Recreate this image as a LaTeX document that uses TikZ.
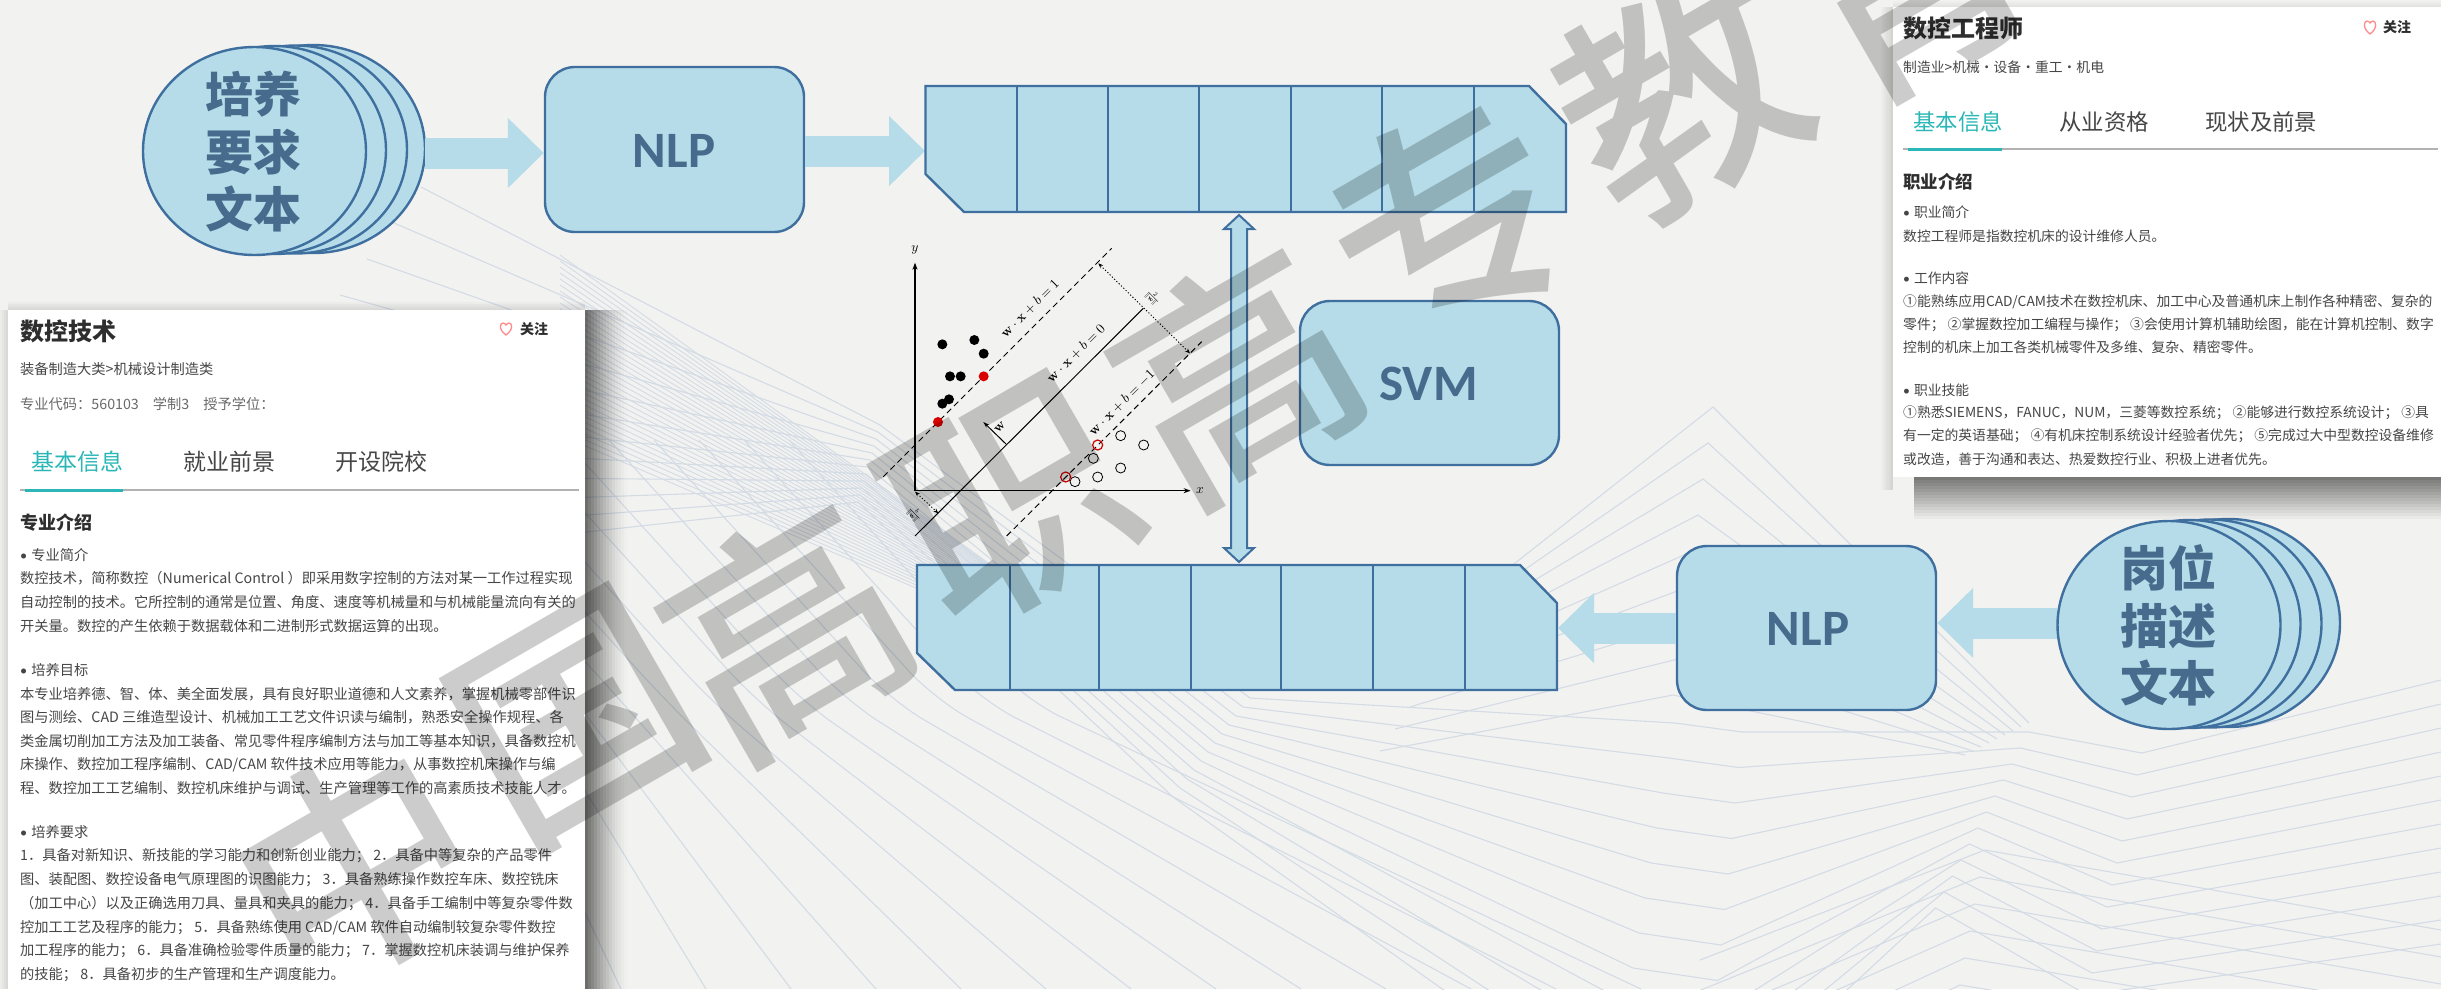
\documentclass[tikz,border=0pt]{standalone}
\usepackage[no-math]{fontspec}
\setmainfont{Noto Sans CJK SC}
\newfontfamily\carl{Carlito}
\newfontfamily\wmf{Noto Sans CJK SC Medium}
\usetikzlibrary{arrows.meta,calc,shapes.geometric}
\definecolor{bgc}{HTML}{F2F2F0}
\definecolor{bfill}{HTML}{B5DCE8}
\definecolor{bline}{HTML}{3F6F9F}
\definecolor{btext}{HTML}{466B8C}
\definecolor{lnc}{HTML}{D3DBE5}
\definecolor{teal1}{HTML}{2BB7B7}
\definecolor{ink}{HTML}{464646}
\definecolor{ink2}{HTML}{6A6A6A}
\definecolor{head}{HTML}{2E2E2E}
\newcommand{\fsz}[1]{\fontsize{#1}{#1}\selectfont}
\newcommand{\bul}{{\carl •}\hspace{4pt}}
\tikzset{
 bgline/.style={draw=lnc,line width=1.1pt},
 hatchline/.style={draw=lnc,line width=.9pt},
 blockbox/.style={draw=bline,fill=bfill,line width=2.4pt},
 roundbox/.style={blockbox,rounded corners=30pt,inner sep=0pt},
 cyl/.style={blockbox,ellipse,inner sep=0pt,minimum width=223pt,minimum height=208pt},
 bigtxt/.style={text=btext,inner sep=0pt,font=\carl\bfseries\fsz{51}},
 cyltxt/.style={text=btext,inner sep=0pt,font=\bfseries\fsz{48}},
 flowarrow/.style={draw=bfill,line width=31pt,-{Triangle[width=68pt,length=36pt]}},
 cardtxt/.style={anchor=west,inner sep=0pt,text=ink,font=\fsz{14.25}},
 cardtxtr/.style={anchor=west,inner sep=0pt,text=ink,font=\fsz{13.8}},
 cardhead/.style={anchor=west,inner sep=0pt,text=head,font=\bfseries\fsz{24}},
 cardsub/.style={anchor=west,inner sep=0pt,text=head,font=\bfseries\fsz{18}},
 tabon/.style={anchor=west,inner sep=0pt,text=teal1,font=\fsz{23}},
 taboff/.style={anchor=west,inner sep=0pt,text=ink,font=\fsz{23}},
 follow/.style={anchor=west,inner sep=0pt,text=head,font=\bfseries\fsz{14}},
 heart/.style={draw=red!45!white,line width=1.3pt},
 wm/.style={text=black,text opacity=.2,rotate=30,inner sep=0pt,font=\wmf\fsz{235}},
 dotax/.style={line width=1.6pt,-{Stealth[length=7pt,width=5pt]}},
 dotdash/.style={line width=1pt,dash pattern=on 6pt off 4pt},
 dotted2/.style={line width=.9pt,dash pattern=on 1.2pt off 2pt,{Stealth[length=5pt,width=4pt]}-{Stealth[length=5pt,width=4pt]}},
 blackpt/.style={circle,fill=black,inner sep=0pt,minimum size=10pt},
 redpt/.style={circle,fill=red!85!black,inner sep=0pt,minimum size=10pt},
 openpt/.style={circle,draw=black,line width=.8pt,inner sep=0pt,minimum size=10pt},
 redopen/.style={circle,draw=red!80!black,line width=1.2pt,inner sep=0pt,minimum size=10pt},
 svmlab/.style={inner sep=0pt,scale=1.35,text=black},
}
\begin{document}
\begin{tikzpicture}[x=1pt,y=-1pt]
\useasboundingbox (0,0) rectangle (2441,989);
\clip (0,0) rectangle (2441,989);
\fill[bgc] (0,0) rectangle (2441,989);
% background guilloche lines
\foreach \k in {0,...,30}{
 \draw[hatchline] (560,{255+6*\k}) -- ({1005+3*\k},{575+3*\k});
}
\foreach \k in {0,...,11}{
 \draw[bgline] ({421-27*\k},{187+36*\k}) -- ({880-2*\k},{425+7*\k}) -- ({1250-7*\k},{698+9*\k}) -- ({1675-6*\k},{723+35*\k}) -- ({1742-3.5*\k},{732+35.5*\k}) -- ({2029-8.5*\k},{732+16*\k}) -- ({2142-5*\k},{753+22*\k}) -- (2441,{680+24*\k});
}
\foreach \k in {-3,...,9}{
 \draw[bgline,rounded corners=40pt] ({620+45*\k-236},440) -- ({620+45*\k},700) -- ({876+85*\k},989);
}
\foreach \k in {0,...,8}{
 \draw[bgline] ({1500-15*\k},{575+22*\k}) -- ({1713-5*\k},{407+36*\k}) -- ({2029-8*\k},{723+4*\k});
}
\foreach \k in {0,...,6}{
 \draw[bgline] ({1700-4*\k},{960+32*\k}) -- ({1985-5*\k},{850+27*\k}) -- (2441,{930+27*\k});
}
% shapes of the flow
\node[cyl] (c1d) at (313.5,149) {};
\node[cyl] (c1c) at (295.5,149.5) {};
\node[cyl] (c1b) at (274.5,150) {};
\node[cyl] (c1a) at (254.5,151) {};
\node[cyltxt] (t1a) at (253,94) {培养};
\node[cyltxt] (t1b) at (253,152) {要求};
\node[cyltxt] (t1c) at (253,209) {文本};
\node[roundbox,minimum width=259pt,minimum height=165pt] (nlp1) at (674.5,149.5) {};
\node[bigtxt] (nlp1t) at (674,151) {NLP};
\coordinate (a1s) at (425,153);
\draw[flowarrow] (a1s) -- (nlp1.west |- a1s);
\coordinate (a2e) at (925,151);
\draw[flowarrow] (nlp1.east |- a2e) -- (a2e);
% upper block
\draw[blockbox,line join=miter] (925.5,86) -- (1529,86) -- (1566,124) -- (1566,212) -- (964,212) -- (925.5,174) -- cycle;
\foreach \x in {1017,1108,1199,1291,1382,1474}{\draw[bline,line width=2pt] (\x,86) -- (\x,212);}
% lower block
\draw[blockbox,line join=miter] (917,565) -- (1520,565) -- (1557,603) -- (1557,690) -- (955,690) -- (917,653) -- cycle;
\foreach \x in {1009.5,1099,1191,1280.5,1373,1465}{\draw[bline,line width=2pt] (\x,565) -- (\x,690);}
% double arrow
\coordinate (dt) at (1239,215);
\coordinate (db) at (1239,562);
\draw[blockbox,line join=miter,line width=2pt] (dt) -- ($(dt)+(15,14)$) -- ($(dt)+(8,14)$) -- ($(db)+(8,-14)$) -- ($(db)+(15,-14)$) -- (db) -- ($(db)+(-15,-14)$) -- ($(db)+(-8,-14)$) -- ($(dt)+(-8,14)$) -- ($(dt)+(-15,14)$) -- cycle;
% SVM box
\node[roundbox,minimum width=259pt,minimum height=164pt] (svm) at (1429.5,383) {};
\node[bigtxt] (svmt) at (1428.5,384) {SVM};
% lower NLP and disc stack
\node[roundbox,minimum width=259pt,minimum height=164pt] (nlp2) at (1806.5,628) {};
\node[bigtxt] (nlp2t) at (1808,629) {NLP};
\coordinate (a3e) at (1558,628);
\draw[flowarrow] (nlp2.west |- a3e) -- (a3e);
\coordinate (a4s) at (2057,623);
\draw[flowarrow] (a4s) -- (nlp2.east |- a4s);
\node[cyl] (c2d) at (2228.5,623) {};
\node[cyl] (c2c) at (2210,623.5) {};
\node[cyl] (c2b) at (2189,624) {};
\node[cyl] (c2a) at (2169,625) {};
\node[cyltxt] (t2a) at (2168,568) {岗位};
\node[cyltxt] (t2b) at (2168,626) {描述};
\node[cyltxt] (t2c) at (2168,683) {文本};
% SVM figure
\begin{scope}[shift={(880,220)},x=.33333pt,y=-.33333pt]
 \coordinate (o) at (105,812);
 \coordinate (ytip) at (105,128);
 \coordinate (xtip) at (932,812);
 \draw[dotax] (o) -- (ytip);
 \draw[dotax] (o) -- (xtip);
 \node[svmlab] (yl) at (105,90) {$y$};
 \node[svmlab] (xl) at (960,812) {$x$};
 \draw[dotdash] (10,770) -- (695,85);
 \draw[dotdash] (380,948) -- (965,365);
 \draw[line width=1pt] (105,948) -- (790,265);
 \draw[line width=1pt,-{Stealth[length=6pt,width=4pt]}] (378,672) -- (310,606);
 \node[svmlab,rotate=45] (wl) at (360,622) {$\mathbf{w}$};
 \node[svmlab,rotate=45] (l1) at (450,265) {$\mathbf{w}\cdot\mathbf{x}+b=1$};
 \node[svmlab,rotate=45] (l0) at (588,400) {$\mathbf{w}\cdot\mathbf{x}+b=0$};
 \node[svmlab,rotate=45] (l2) at (725,548) {$\mathbf{w}\cdot\mathbf{x}+b=-1$};
 \draw[dotted2] (655,130) -- (930,400);
 \draw[dotted2] (105,815) -- (175,880);
 \node[inner sep=0pt,rotate=-45,scale=.9] (fr) at (818,232) {$\frac{2}{\|\mathbf{w}\|}$};
 \node[inner sep=0pt,rotate=-45,scale=.9] (fb) at (103,882) {$\frac{b}{\|\mathbf{w}\|}$};
 \foreach \p in {(187,373),(283,360),(311,401),(210,469),(242,469),(187,551),(207,538)}{\node[blackpt] at \p {};}
 \foreach \p in {(311,469),(174,606)}{\node[redpt] at \p {};}
 \foreach \p in {(722,647),(791,675),(640,715),(722,744),(653,771),(585,785)}{\node[openpt] at \p {};}
 \foreach \p in {(653,675),(557,771)}{\node[redopen] at \p {};}
\end{scope}
% left card shadow
\foreach \i in {0,...,13}{
 \fill[black,opacity={.55*(1-\i/14)^1.5}] ({585+3*\i},310) rectangle ({588+3*\i},989);
}
\foreach \i in {0,...,3}{
 \fill[black,opacity={.1*(1-\i/4)}] ({8-2*\i},310) rectangle ({6-2*\i},989);
 \fill[black,opacity={.1*(1-\i/4)}] (8,{310-2*\i}) rectangle (585,{308-2*\i});
}
\fill[white] (8,310) rectangle (585,989);
\node[cardhead] (lh) at (20,331) {数控技术};
\draw[heart] (506,335) .. controls (498,329) and (500,323) .. (503,323) .. controls (505,323) and (506,325) .. (506,325) .. controls (506,325) and (507,323) .. (509,323) .. controls (512,323) and (514,329) .. (506,335) -- cycle;
\node[follow] (lf) at (520,329) {关注};
\node[cardtxt] (l1a) at (20,369.5) {装备制造大类>机械设计制造类};
\node[cardtxt,text=ink2] (l1b) at (20,404) {专业代码：560103\hspace{14pt}学制3\hspace{14pt}授予学位：};
\node[tabon] (ltab1) at (31,462) {基本信息};
\node[taboff] (ltab2) at (183,462) {就业前景};
\node[taboff] (ltab3) at (335,462) {开设院校};
\draw[black!30,line width=1.4pt] (20,490) -- (579,490);
\draw[teal1,line width=3pt] (25,490) -- (123,490);
\node[cardsub] (lsub) at (20,523) {专业介绍};
\node[cardtxt] at (20,555) {\bul 专业简介};
\node[cardtxt] at (20,578.5) {数控技术，简称数控（Numerical Control ）即采用数字控制的方法对某一工作过程实现};
\node[cardtxt] at (20,602.5) {自动控制的技术。它所控制的通常是位置、角度、速度等机械量和与机械能量流向有关的};
\node[cardtxt] at (20,626) {开关量。数控的产生依赖于数据载体和二进制形式数据运算的出现。};
\node[cardtxt] at (20,670) {\bul 培养目标};
\node[cardtxt] at (20,694) {本专业培养德、智、体、美全面发展，具有良好职业道德和人文素养，掌握机械零部件识};
\node[cardtxt] at (20,717.5) {图与测绘、CAD 三维造型设计、机械加工工艺文件识读与编制，熟悉安全操作规程、各};
\node[cardtxt] at (20,741) {类金属切削加工方法及加工装备、常见零件程序编制方法与加工等基本知识，具备数控机};
\node[cardtxt] at (20,765) {床操作、数控加工程序编制、CAD/CAM 软件技术应用等能力，从事数控机床操作与编};
\node[cardtxt] at (20,788.5) {程、数控加工工艺编制、数控机床维护与调试、生产管理等工作的高素质技术技能人才。};
\node[cardtxt] at (20,832.5) {\bul 培养要求};
\node[cardtxt] at (20,856) {1．具备对新知识、新技能的学习能力和创新创业能力； 2．具备中等复杂的产品零件};
\node[cardtxt] at (20,880) {图、装配图、数控设备电气原理图的识图能力； 3．具备熟练操作数控车床、数控铣床};
\node[cardtxt] at (20,903.5) {（加工中心）以及正确选用刀具、量具和夹具的能力； 4．具备手工编制中等复杂零件数};
\node[cardtxt] at (20,927.5) {控加工工艺及程序的能力； 5．具备熟练使用 CAD/CAM 软件自动编制较复杂零件数控};
\node[cardtxt] at (20,951) {加工程序的能力； 6．具备准确检验零件质量的能力； 7．掌握数控机床装调与维护保养};
\node[cardtxt] at (20,975) {的技能； 8．具备初步的生产管理和生产调度能力。};
% right card shadow
\foreach \i in {0,...,13}{
 \fill[black,opacity={.5*(1-\i/14)}] (1914,{477+3*\i}) rectangle (2441,{480+3*\i});
}
\foreach \i in {0,...,5}{
 \fill[black,opacity={.12*(1-\i/6)}] ({1893-2*\i},7) rectangle ({1891-2*\i},490);
 \fill[black,opacity={.06*(1-\i/6)}] (1893,{7-\i}) rectangle (2441,{6-\i});
}
\fill[white] (1893,7) rectangle (2441,477);
\node[cardhead] (rh) at (1903,28) {数控工程师};
\draw[heart] (2370,34) .. controls (2362,28) and (2364,21) .. (2367,21) .. controls (2369,21) and (2370,23) .. (2370,23) .. controls (2370,23) and (2371,21) .. (2373,21) .. controls (2376,21) and (2378,28) .. (2370,34) -- cycle;
\node[follow] (rf) at (2383,27.5) {关注};
\node[cardtxtr] (r1a) at (1903,67) {制造业>机械·设备·重工·机电};
\node[tabon,font=\fsz{22.4}] (rtab1) at (1913,122) {基本信息};
\node[taboff,font=\fsz{22.4}] (rtab2) at (2059,122) {从业资格};
\node[taboff,font=\fsz{22.4}] (rtab3) at (2205,122) {现状及前景};
\draw[black!30,line width=1.4pt] (1903,149) -- (2438,149);
\draw[teal1,line width=3pt] (1908,149) -- (2002,149);
\node[cardsub,font=\bfseries\fsz{17.5}] (rsub) at (1903,181.5) {职业介绍};
\node[cardtxtr] at (1903,212.5) {\bul 职业简介};
\node[cardtxtr] at (1903,236) {数控工程师是指数控机床的设计维修人员。};
\node[cardtxtr] at (1903,278) {\bul 工作内容};
\node[cardtxtr] at (1903,301.5) {①能熟练应用CAD/CAM技术在数控机床、加工中心及普通机床上制作各种精密、复杂的};
\node[cardtxtr] at (1903,324.5) {零件； ②掌握数控加工编程与操作； ③会使用计算机辅助绘图，能在计算机控制、数字};
\node[cardtxtr] at (1903,347.5) {控制的机床上加工各类机械零件及多维、复杂、精密零件。};
\node[cardtxtr] at (1903,390) {\bul 职业技能};
\node[cardtxtr] at (1903,412.5) {①熟悉SIEMENS，FANUC，NUM，三菱等数控系统； ②能够进行数控系统设计； ③具};
\node[cardtxtr] at (1903,435.5) {有一定的英语基础； ④有机床控制系统设计经验者优先； ⑤完成过大中型数控设备维修};
\node[cardtxtr] at (1903,459) {或改造，善于沟通和表达、热爱数控行业、积极上进者优先。};
% watermark
\node[wm] (w0) at (356,865) {中};
\node[wm] (w1) at (576,720) {国};
\node[wm] (w2) at (786,630) {高};
\node[wm] (w3) at (1011,502) {职};
\node[wm] (w4) at (1236,374) {高};
\node[wm] (w5) at (1450,222) {专};
\node[wm] (w6) at (1680,95) {教};
\node[wm] (w7) at (1905,-25) {育};
\end{tikzpicture}
\end{document}
